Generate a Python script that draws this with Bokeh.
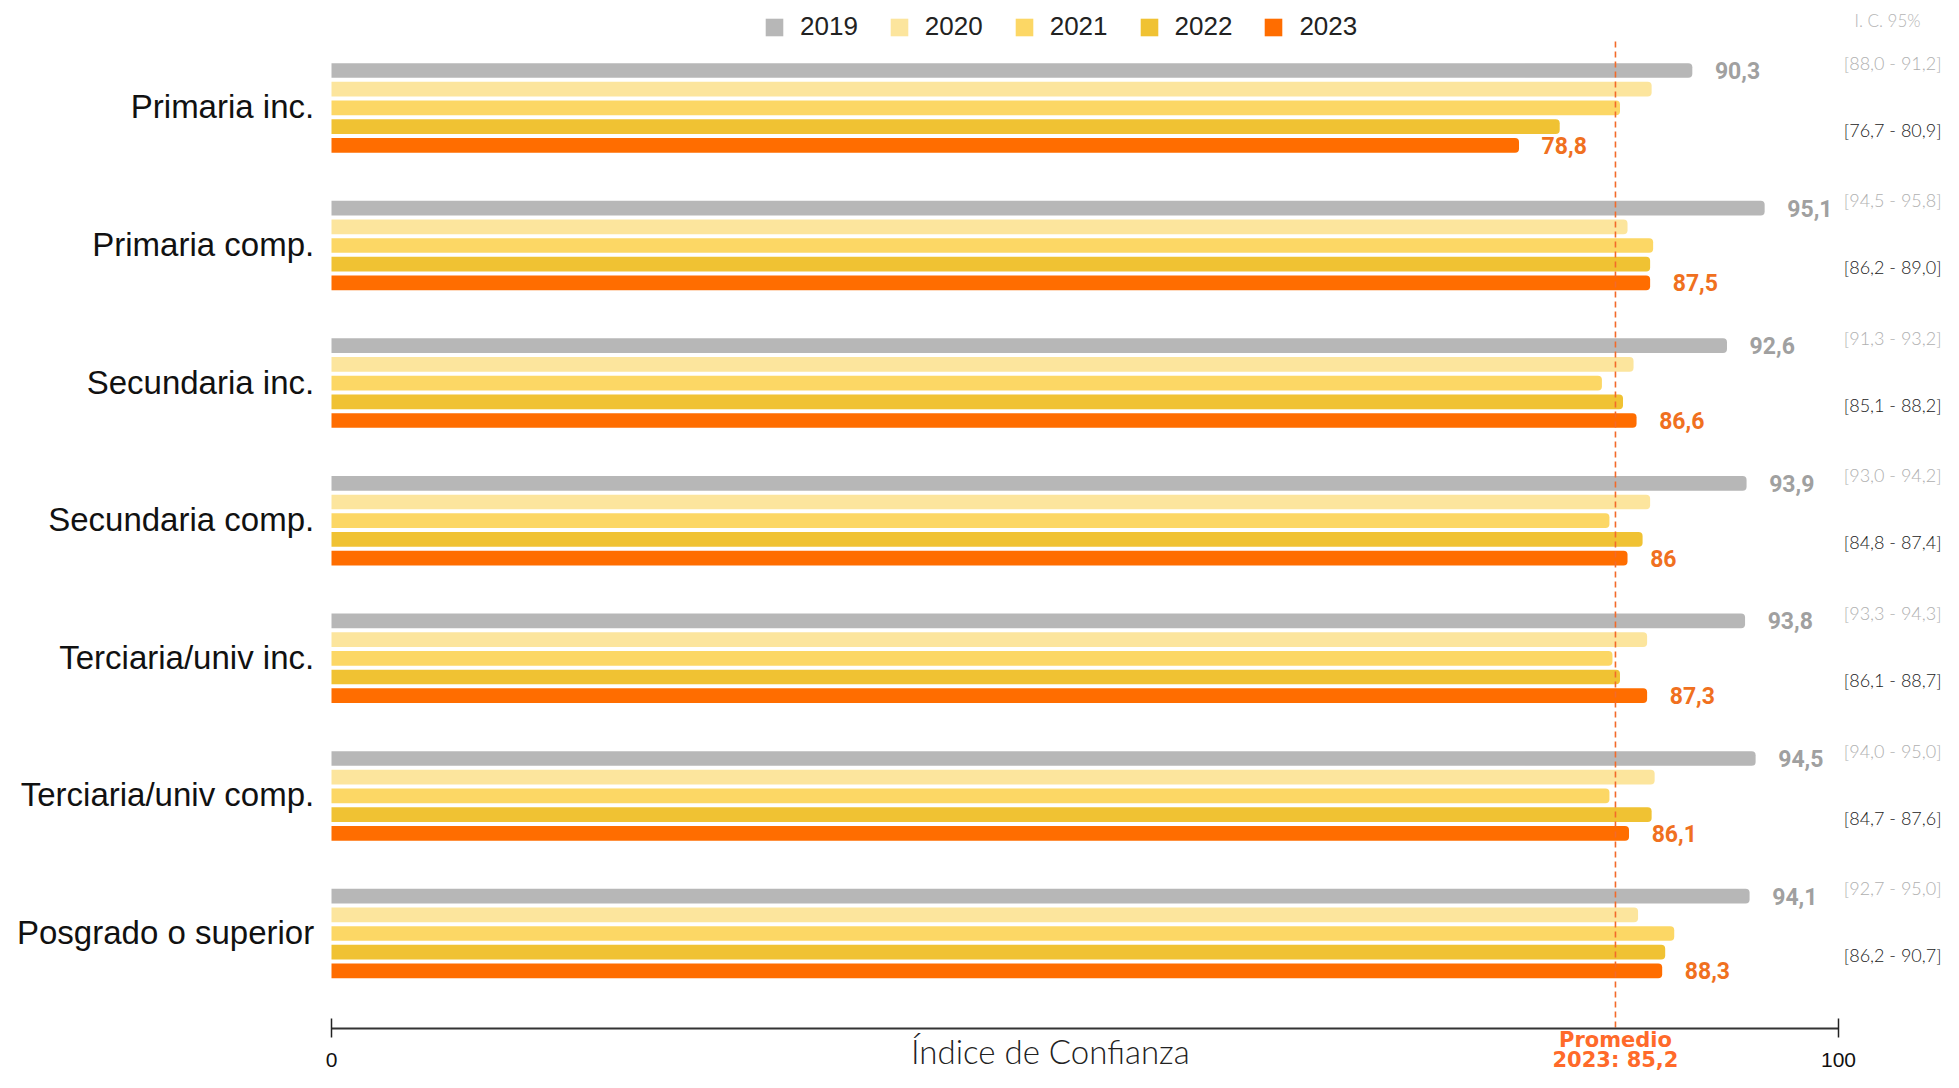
from bokeh.plotting import figure
from bokeh.models import ColumnDataSource, Range1d, Legend, LegendItem
from bokeh.core.properties import value
from bokeh.embed import file_html
from bokeh.resources import INLINE

# ---------------- data ----------------
CATEGORIES = ["Primaria inc.", "Primaria comp.", "Secundaria inc.", "Secundaria comp.",
              "Terciaria/univ inc.", "Terciaria/univ comp.", "Posgrado o superior"]
YEARS = ["2019", "2020", "2021", "2022", "2023"]
V2019 = [90.3, 95.1, 92.6, 93.9, 93.8, 94.5, 94.1]
V2020 = [87.6, 86.0, 86.4, 87.5, 87.3, 87.8, 86.7]
V2021 = [85.5, 87.7, 84.3, 84.8, 85.0, 84.8, 89.1]
V2022 = [81.5, 87.5, 85.7, 87.0, 85.5, 87.6, 88.5]
V2023 = [78.8, 87.5, 86.6, 86.0, 87.3, 86.1, 88.3]
LABEL_2019 = ["90,3", "95,1", "92,6", "93,9", "93,8", "94,5", "94,1"]
LABEL_2023 = ["78,8", "87,5", "86,6", "86", "87,3", "86,1", "88,3"]
CI_2019 = ["[88,0 - 91,2]", "[94,5 - 95,8]", "[91,3 - 93,2]", "[93,0 - 94,2]",
           "[93,3 - 94,3]", "[94,0 - 95,0]", "[92,7 - 95,0]"]
CI_2023 = ["[76,7 - 80,9]", "[86,2 - 89,0]", "[85,1 - 88,2]", "[84,8 - 87,4]",
           "[86,1 - 88,7]", "[84,7 - 87,6]", "[86,2 - 90,7]"]
CI_TITLE = "I. C. 95%"
PROMEDIO_2023 = 85.2
PROMEDIO_TEXT = ["Promedio", "2023: 85,2"]
AXIS_TICKS = [0, 100]
AXIS_TITLE = "Índice de Confianza"
COLORS = ["#B7B7B7", "#FCE59D", "#FCD765", "#F0C233", "#FF6D00"]
VALUES = [V2019, V2020, V2021, V2022, V2023]

# ---------------- layout ----------------
W, H = 1943, 1072
X0_PX = 331.0          # canvas px of value 0
PPU = 15.07            # px per unit
GROUP_TOP = 70.0
GROUP_STEP = 137.6
BAR_STEP = 18.7
BAR_H = 14.7
AXIS_Y = 1028
LIGHT = "Lato Light, Lato"


def ypos(i, j):
    return GROUP_TOP + i * GROUP_STEP + j * BAR_STEP


p = figure(width=W, height=H,
           x_range=Range1d(-X0_PX / PPU, (W - X0_PX) / PPU),
           y_range=Range1d(H, 0),
           output_backend="svg", toolbar_location=None,
           x_axis_type=None, y_axis_type=None, min_border=0,
           outline_line_color=None, background_fill_color="white")

n = len(CATEGORIES)
items = []
for j, year in enumerate(YEARS):
    src = ColumnDataSource(dict(y=[ypos(i, j) for i in range(n)], right=VALUES[j]))
    r = p.hbar(y="y", left=0, right="right", height=BAR_H, source=src,
               fill_color=COLORS[j], line_color=None, border_radius=(0, 4, 4, 0))
    items.append(LegendItem(label=year, renderers=[r]))

legend = Legend(items=items, orientation="horizontal", location=(763, 1030),
                glyph_width=22, glyph_height=22, label_standoff=15, spacing=30,
                padding=0, margin=0, border_line_color=None, background_fill_alpha=0,
                label_text_font="Liberation Sans", label_text_font_size="26px",
                label_text_color="#222222", label_height=22)
p.add_layout(legend)

# category labels
p.text(x=[-1.15] * n, y=[ypos(i, 2) - 1 for i in range(n)], text=CATEGORIES,
       text_font=value("Liberation Sans"), text_font_size="33px", text_color="#111111",
       text_align="right", text_baseline="middle")

# value labels
p.text(x=[v + 1.5 for v in V2019], y=[ypos(i, 0) for i in range(n)], text=LABEL_2019,
       text_font=value("Roboto"), text_font_style="bold", text_font_size="23px",
       text_color="#A0A0A0", text_align="left", text_baseline="middle")
p.text(x=[v + 1.5 for v in V2023], y=[ypos(i, 4) for i in range(n)], text=LABEL_2023,
       text_font=value("Roboto"), text_font_style="bold", text_font_size="23px",
       text_color="#F07020", text_align="left", text_baseline="middle")

# confidence intervals
ci_x = (W - 2 - X0_PX) / PPU
p.text(x=[ci_x] * n, y=[ypos(i, 0) - 8 for i in range(n)], text=CI_2019,
       text_font=value(LIGHT), text_font_size="18px", text_color="#B0B0B0",
       text_align="right", text_baseline="middle")
p.text(x=[ci_x] * n, y=[ypos(i, 3) + 3 for i in range(n)], text=CI_2023,
       text_font=value(LIGHT), text_font_size="18px", text_color="#222222",
       text_align="right", text_baseline="middle")
p.text(x=[(1854 - X0_PX) / PPU], y=[20], text=[CI_TITLE],
       text_font=value(LIGHT), text_font_size="17px", text_color="#B5B5B5",
       text_align="left", text_baseline="middle")

# average line
p.segment(x0=[PROMEDIO_2023], x1=[PROMEDIO_2023], y0=[41], y1=[AXIS_Y],
          line_color="#F26B2A", line_width=1.6, line_dash="6 4")
p.text(x=[PROMEDIO_2023] * 2, y=[1039, 1059], text=PROMEDIO_TEXT,
       text_font=value("DejaVu Sans"), text_font_style="bold", text_font_size="21px",
       text_color="#FF6A2A", text_align="center", text_baseline="middle")

# axis
p.segment(x0=[AXIS_TICKS[0]], x1=[AXIS_TICKS[-1]], y0=[AXIS_Y], y1=[AXIS_Y],
          line_color="#333333", line_width=2)
p.segment(x0=AXIS_TICKS, x1=AXIS_TICKS, y0=[AXIS_Y - 10] * 2, y1=[AXIS_Y + 9] * 2,
          line_color="#222222", line_width=1.5)
p.text(x=AXIS_TICKS, y=[1059] * 2, text=[str(t) for t in AXIS_TICKS],
       text_font=value("Liberation Sans"), text_font_size="21px", text_color="#111111",
       text_align="center", text_baseline="middle")
p.text(x=[47.7], y=[1050], text=[AXIS_TITLE],
       text_font=value(LIGHT), text_font_size="33px", text_color="#222222",
       text_align="center", text_baseline="middle")

open("out.html", "w").write(file_html(p, INLINE))
